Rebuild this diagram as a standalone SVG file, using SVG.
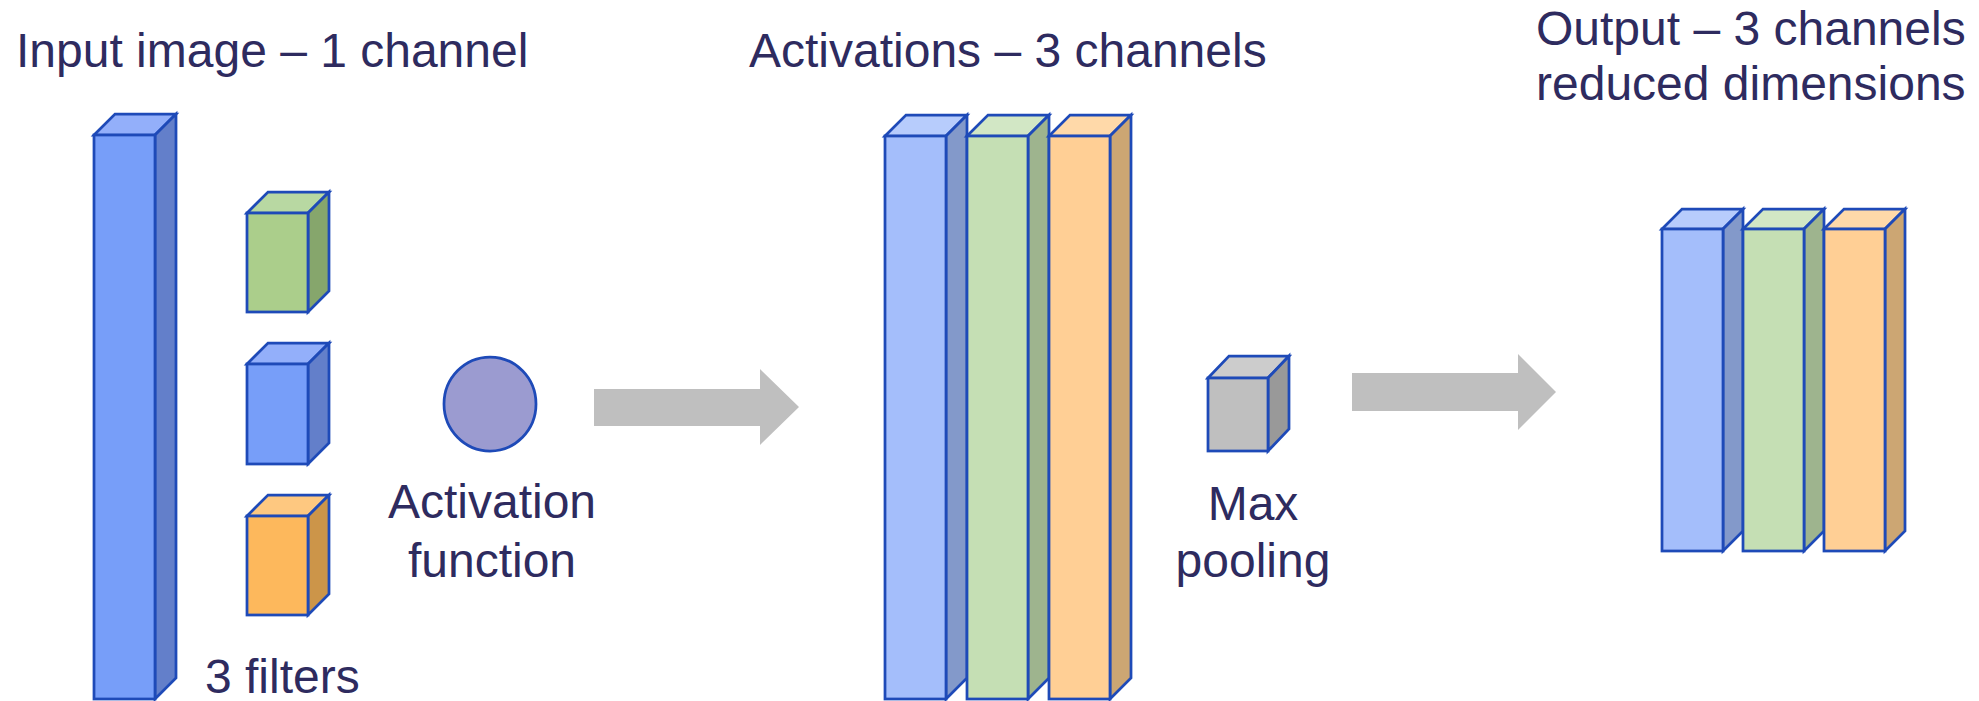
<svg xmlns="http://www.w3.org/2000/svg" width="1979" height="701" viewBox="0 0 1979 701">
<style>
  .lbl { font-family: "Liberation Sans", Arial, sans-serif; font-size: 48px; fill: #2E2B5F; }
  .mid { text-anchor: middle; }
  .edge { stroke: #1E4AB8; stroke-width: 2.75; stroke-linejoin: miter; }
  .arrow { fill: #BFBFBF; stroke: none; }
  .b1f { fill: #779EF9; } .b1s { fill: #637FCA; } .b1t { fill: #93AFFA; }
  .g1f { fill: #ABCE8B; } .g1s { fill: #86A66C; } .g1t { fill: #B8D8A2; }
  .o1f { fill: #FDB85C; } .o1s { fill: #CC9549; } .o1t { fill: #FEC880; }
  .b2f { fill: #A4BEFB; } .b2s { fill: #8399CA; } .b2t { fill: #B7CCFC; }
  .g2f { fill: #C5DFB4; } .g2s { fill: #9EB48E; } .g2t { fill: #D2E7C5; }
  .o2f { fill: #FFCF95; } .o2s { fill: #CCA673; } .o2t { fill: #FFD9A9; }
  .grf { fill: #BFBFBF; } .grs { fill: #999999; } .grt { fill: #CCCCCC; }
</style>
<rect width="1979" height="701" fill="#FFFFFF"/>

<!-- Titles -->
<g id="title-input"><text class="lbl" x="16" y="67">Input image – 1 channel</text></g>
<g id="title-activations"><text class="lbl" x="749" y="67">Activations – 3 channels</text></g>
<g id="title-output">
  <text class="lbl" x="1536" y="45">Output – 3 channels</text>
  <text class="lbl" x="1536" y="100">reduced dimensions</text>
</g>

<!-- Input image bar: x=94 y=135 w=61 h=564 d=21 -->
<g id="input-image" class="edge">
  <polygon class="b1t" points="94,135 115,114 176,114 155,135"/>
  <polygon class="b1s" points="155,135 176,114 176,678 155,699"/>
  <rect class="b1f" x="94" y="135" width="61" height="564"/>
</g>

<!-- Filters -->
<g id="filter-green" class="edge">
  <polygon class="g1t" points="247,213 268,192 329,192 308,213"/>
  <polygon class="g1s" points="308,213 329,192 329,291 308,312"/>
  <rect class="g1f" x="247" y="213" width="61" height="99"/>
</g>
<g id="filter-blue" class="edge">
  <polygon class="b1t" points="247,364 268,343 329,343 308,364"/>
  <polygon class="b1s" points="308,364 329,343 329,443 308,464"/>
  <rect class="b1f" x="247" y="364" width="61" height="100"/>
</g>
<g id="filter-orange" class="edge">
  <polygon class="o1t" points="247,516 268,495 329,495 308,516"/>
  <polygon class="o1s" points="308,516 329,495 329,594 308,615"/>
  <rect class="o1f" x="247" y="516" width="61" height="99"/>
</g>
<g id="label-filters"><text class="lbl" x="205" y="693">3 filters</text></g>

<!-- Activation function -->
<g id="activation-function">
  <ellipse cx="490" cy="404" rx="46" ry="47" fill="#9B9BD0" class="edge"/>
  <text class="lbl mid" x="492" y="518">Activation</text>
  <text class="lbl mid" x="492" y="577">function</text>
</g>

<!-- Activations stack -->
<g id="activation-blue" class="edge">
  <polygon class="b2t" points="885,136 906,115 967,115 946,136"/>
  <polygon class="b2s" points="946,136 967,115 967,678 946,699"/>
  <rect class="b2f" x="885" y="136" width="61" height="563"/>
</g>
<g id="activation-green" class="edge">
  <polygon class="g2t" points="967,136 988,115 1049,115 1028,136"/>
  <polygon class="g2s" points="1028,136 1049,115 1049,678 1028,699"/>
  <rect class="g2f" x="967" y="136" width="61" height="563"/>
</g>
<g id="activation-orange" class="edge">
  <polygon class="o2t" points="1049,136 1070,115 1131,115 1110,136"/>
  <polygon class="o2s" points="1110,136 1131,115 1131,678 1110,699"/>
  <rect class="o2f" x="1049" y="136" width="61" height="563"/>
</g>

<!-- Max pooling -->
<g id="max-pooling">
  <g class="edge">
    <polygon class="grt" points="1208,378 1229,356 1289,356 1268,378"/>
    <polygon class="grs" points="1268,378 1289,356 1289,429 1268,451"/>
    <rect class="grf" x="1208" y="378" width="60" height="73"/>
  </g>
  <text class="lbl mid" x="1253" y="520">Max</text>
  <text class="lbl mid" x="1253" y="577">pooling</text>
</g>

<!-- Output stack -->
<g id="output-blue" class="edge">
  <polygon class="b2t" points="1662,229 1682,209 1743,209 1723,229"/>
  <polygon class="b2s" points="1723,229 1743,209 1743,531 1723,551"/>
  <rect class="b2f" x="1662" y="229" width="61" height="322"/>
</g>
<g id="output-green" class="edge">
  <polygon class="g2t" points="1743,229 1763,209 1824,209 1804,229"/>
  <polygon class="g2s" points="1804,229 1824,209 1824,531 1804,551"/>
  <rect class="g2f" x="1743" y="229" width="61" height="322"/>
</g>
<g id="output-orange" class="edge">
  <polygon class="o2t" points="1824,229 1844,209 1905,209 1885,229"/>
  <polygon class="o2s" points="1885,229 1905,209 1905,531 1885,551"/>
  <rect class="o2f" x="1824" y="229" width="61" height="322"/>
</g>

<!-- Connectors -->
<g id="connectors">
  <polygon class="arrow" points="594,389 760,389 760,369 799,407 760,445 760,426 594,426"/>
  <polygon class="arrow" points="1352,373 1518,373 1518,354 1556,392 1518,430 1518,411 1352,411"/>
</g>
</svg>
